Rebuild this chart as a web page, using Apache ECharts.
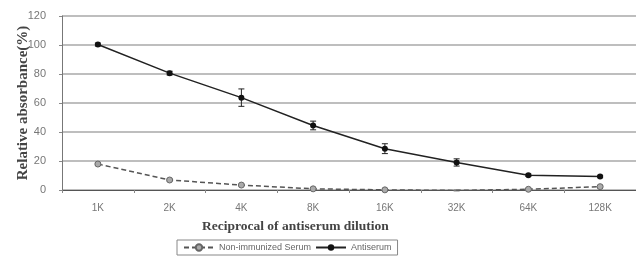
<!DOCTYPE html>
<html>
<head>
<meta charset="utf-8">
<script src="https://cdn.jsdelivr.net/npm/echarts@6/dist/echarts.min.js"></script>
<style>
  html, body { margin: 0; padding: 0; background: #fff; }
  #chart { width: 636px; height: 260px; }
</style>
</head>
<body>
<div id="chart"></div>
<script>
// 数据
const dilutions = ['1K', '2K', '4K', '8K', '16K', '32K', '64K', '128K']
const antiserum = [100.3, 80.6, 63.7, 44.5, 28.5, 19, 10.2, 9.3]
const antiserumErr = [1, 1.3, 6, 3, 3.4, 2.5, 0.8, 0.8]
const nonImmune = [17.9, 6.9, 3.4, 0.8, 0.1, -0.3, 0.5, 2.3]
const nonImmuneErr = [0.8, 0.8, 0.6, 0.5, 0.4, 0.4, 0.5, 0.8]
const yTicks = [0, 20, 40, 60, 80, 100, 120]

const chart = echarts.init(document.getElementById('chart'))

// 误差线
function errorBars(values, errs, color) {
    return {
        type: 'custom',
        silent: true,
        z: 1,
        data: values.map((v, i) => [i, v - errs[i], v + errs[i]]),
        renderItem: function (params, api) {
            const lo = api.coord([api.value(0), api.value(1)])
            const hi = api.coord([api.value(0), api.value(2)])
            const w = 3
            return {
                type: 'group',
                children: [
                    { type: 'line', shape: { x1: lo[0], y1: lo[1], x2: hi[0], y2: hi[1] }, style: { stroke: color, lineWidth: 1 } },
                    { type: 'line', shape: { x1: lo[0] - w, y1: lo[1], x2: lo[0] + w, y2: lo[1] }, style: { stroke: color, lineWidth: 1 } },
                    { type: 'line', shape: { x1: hi[0] - w, y1: hi[1], x2: hi[0] + w, y2: hi[1] }, style: { stroke: color, lineWidth: 1 } }
                ]
            }
        }
    }
}

const option = {
    animation: false,
    grid: { left: 62, right: 0, top: 16, bottom: 70, containLabel: false, outerBoundsMode: 'none' },
    legend: {
        left: 177,
        top: 240,
        itemGap: 4,
        itemWidth: 30,
        itemHeight: 8,
        padding: [3, 6],
        borderColor: '#888',
        borderWidth: 1,
        textStyle: { fontFamily: 'Liberation Sans', fontSize: 9, color: '#666' },
        data: ['Non-immunized Serum', 'Antiserum']
    },
    graphic: [{
        type: 'text',
        left: 292 - 90,
        top: 220,
        style: {
            text: 'Reciprocal of antiserum dilution',
            font: 'bold 13.5px "Liberation Serif"',
            fill: '#444'
        }
    }],
    xAxis: {
        type: 'category',
        data: dilutions,
        axisLine: { lineStyle: { color: '#555', width: 1 } },
        axisTick: { show: true, length: 3, lineStyle: { color: '#888' } },
        axisLabel: { margin: 13, fontFamily: 'Liberation Sans', fontSize: 10, color: '#777' }
    },
    yAxis: {
        type: 'value',
        min: 0,
        max: 120,
        interval: 20,
        name: 'Relative absorbance(%)',
        nameLocation: 'middle',
        nameGap: 31,
        nameMoveOverlap: false,
        nameTextStyle: { fontFamily: 'Liberation Serif', fontWeight: 'bold', fontSize: 15, color: '#444' },
        axisLine: { show: true, lineStyle: { color: '#777' } },
        axisTick: { show: true, length: 3, lineStyle: { color: '#888' } },
        axisLabel: {
            fontFamily: 'Liberation Sans Narrow, Liberation Sans', fontSize: 11, color: '#777', margin: 16,
            formatter: v => yTicks.includes(v) ? String(v) : ''
        },
        splitLine: { lineStyle: { color: '#a8a8a8', width: 1.5 } }
    },
    series: [
        errorBars(nonImmune, nonImmuneErr, '#888'),
        errorBars(antiserum, antiserumErr, '#222'),
        {
            name: 'Non-immunized Serum',
            type: 'line',
            data: nonImmune,
            symbol: 'circle',
            symbolSize: 6,
            z: 2,
            lineStyle: { color: '#555', width: 1.5, type: [5, 3] },
            itemStyle: { color: '#aaa', borderColor: '#666', borderWidth: 1 }
        },
        {
            name: 'Antiserum',
            type: 'line',
            data: antiserum,
            symbol: 'circle',
            symbolSize: 6,
            z: 3,
            lineStyle: { color: '#222', width: 1.5 },
            itemStyle: { color: '#111' }
        }
    ]
}

chart.setOption(option)
</script>
</body>
</html>
